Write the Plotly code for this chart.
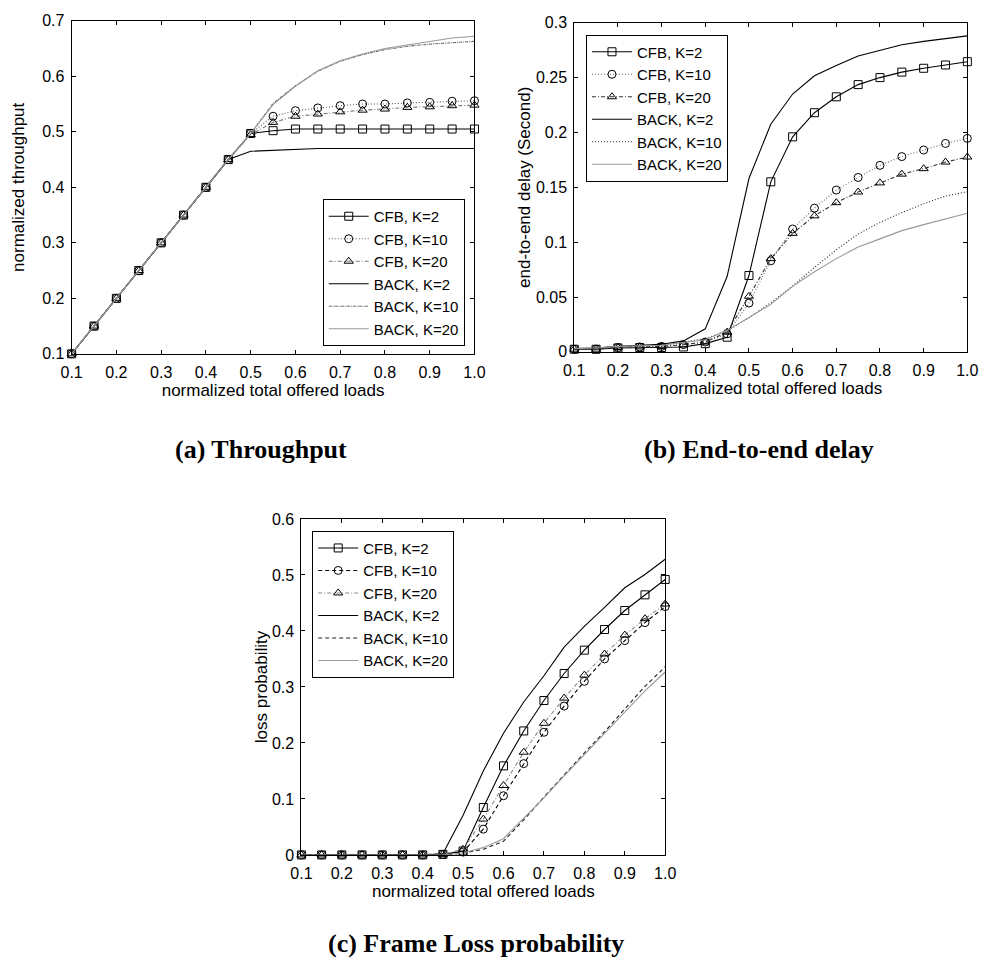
import plotly.graph_objects as go

# ---------------- data ----------------
x_load = [0.1, 0.15, 0.2, 0.25, 0.3, 0.35, 0.4, 0.45, 0.5, 0.55,
          0.6, 0.65, 0.7, 0.75, 0.8, 0.85, 0.9, 0.95, 1.0]
series_names = ["CFB, K=2", "CFB, K=10", "CFB, K=20",
                "BACK, K=2", "BACK, K=10", "BACK, K=20"]

thr_cfb_k2 = [0.1, 0.15, 0.2, 0.25, 0.3, 0.35, 0.4, 0.45, 0.497, 0.502,
              0.505, 0.505, 0.505, 0.505, 0.505, 0.505, 0.505, 0.505, 0.505]
thr_cfb_k10 = [0.1, 0.15, 0.2, 0.25, 0.3, 0.35, 0.4, 0.45, 0.497, 0.528,
               0.538, 0.543, 0.547, 0.55, 0.55, 0.552, 0.553, 0.555, 0.556]
thr_cfb_k20 = [0.1, 0.15, 0.2, 0.25, 0.3, 0.35, 0.4, 0.45, 0.495, 0.517,
               0.528, 0.532, 0.536, 0.539, 0.541, 0.544, 0.545, 0.547, 0.548]
thr_back_k2 = [0.1, 0.15, 0.2, 0.25, 0.3, 0.35, 0.4, 0.45, 0.465, 0.467,
               0.468, 0.47, 0.47, 0.47, 0.47, 0.47, 0.47, 0.47, 0.47]
thr_back_k10 = [0.1, 0.15, 0.2, 0.25, 0.3, 0.35, 0.4, 0.45, 0.497, 0.551,
                0.583, 0.609, 0.627, 0.639, 0.648, 0.654, 0.658, 0.661, 0.663]
thr_back_k20 = [0.1, 0.15, 0.2, 0.25, 0.3, 0.35, 0.4, 0.45, 0.497, 0.549,
                0.582, 0.61, 0.628, 0.64, 0.65, 0.656, 0.663, 0.669, 0.672]

dly_cfb_k2 = [0.0024, 0.0024, 0.0036, 0.004, 0.004, 0.0045, 0.0075, 0.0134, 0.0696, 0.155,
              0.196, 0.218, 0.2325, 0.2436, 0.25, 0.255, 0.2585, 0.2615, 0.2645]
dly_cfb_k10 = [0.0025, 0.0025, 0.004, 0.0045, 0.005, 0.0066, 0.009, 0.0164, 0.0445, 0.083,
               0.112, 0.131, 0.1475, 0.159, 0.17, 0.178, 0.184, 0.19, 0.1946]
dly_cfb_k20 = [0.0025, 0.0025, 0.004, 0.0045, 0.005, 0.0065, 0.009, 0.018, 0.0507, 0.085,
               0.108, 0.124, 0.136, 0.1457, 0.154, 0.162, 0.167, 0.173, 0.1776]
dly_back_k2 = [0.003, 0.0035, 0.005, 0.006, 0.007, 0.01, 0.021, 0.0687, 0.158, 0.2075,
               0.235, 0.2516, 0.261, 0.2696, 0.275, 0.28, 0.283, 0.2857, 0.288]
dly_back_k10 = [0.003, 0.0035, 0.005, 0.0055, 0.006, 0.009, 0.012, 0.0194, 0.031, 0.0448,
                0.06, 0.077, 0.093, 0.1075, 0.118, 0.127, 0.135, 0.142, 0.146]
dly_back_k20 = [0.003, 0.0035, 0.005, 0.0055, 0.006, 0.0085, 0.011, 0.0194, 0.031, 0.0433,
                0.0597, 0.073, 0.085, 0.0955, 0.103, 0.1105, 0.116, 0.121, 0.1263]

loss_cfb_k2 = [0, 0, 0, 0, 0, 0, 0, 0.001, 0.007, 0.0847,
               0.159, 0.2214, 0.2757, 0.324, 0.3657, 0.4025, 0.4364, 0.4644, 0.4919]
loss_cfb_k10 = [0, 0, 0, 0, 0, 0, 0, 0.001, 0.005, 0.046,
                0.1057, 0.163, 0.219, 0.2658, 0.31, 0.35, 0.3827, 0.4148, 0.4434]
loss_cfb_k20 = [0, 0, 0, 0, 0, 0, 0, 0.001, 0.01, 0.064,
                0.124, 0.1834, 0.235, 0.28, 0.321, 0.3587, 0.3926, 0.4218, 0.448]
loss_back_k2 = [0, 0, 0, 0, 0, 0, 0, 0.002, 0.071, 0.15,
                0.2173, 0.273, 0.32, 0.371, 0.408, 0.442, 0.477, 0.5007, 0.528]
loss_back_k10 = [0, 0, 0, 0, 0, 0, 0, 0, 0.003, 0.01,
                 0.0245, 0.0625, 0.1034, 0.143, 0.182, 0.22, 0.261, 0.301, 0.336]
loss_back_k20 = [0, 0, 0, 0, 0, 0, 0, 0, 0.004, 0.013,
                 0.029, 0.0654, 0.102, 0.141, 0.179, 0.217, 0.2565, 0.293, 0.3266]

x_tickvals = [0.1, 0.2, 0.3, 0.4, 0.5, 0.6, 0.7, 0.8, 0.9, 1.0]
x_ticktext = ["0.1", "0.2", "0.3", "0.4", "0.5", "0.6", "0.7", "0.8", "0.9", "1.0"]
thr_ticks = [0.1, 0.2, 0.3, 0.4, 0.5, 0.6, 0.7]
thr_ticktext = ["0.1", "0.2", "0.3", "0.4", "0.5", "0.6", "0.7"]
dly_ticks = [0, 0.05, 0.1, 0.15, 0.2, 0.25, 0.3]
dly_ticktext = ["0", "0.05", "0.1", "0.15", "0.2", "0.25", "0.3"]
loss_ticks = [0, 0.1, 0.2, 0.3, 0.4, 0.5, 0.6]
loss_ticktext = ["0", "0.1", "0.2", "0.3", "0.4", "0.5", "0.6"]

# ---------------- styles ----------------
SANS = "Liberation Sans, Arial, sans-serif"
SERIF = "Liberation Serif, Times New Roman, serif"
DOT = "1px,2px"
DASHDOT = "4px,2px,1px,2px"
DASH = "4px,3px"

symbols = ["square-open", "circle-open", "triangle-up-open", None, None, None]

styles_a = [("black", "solid"), ("#555555", DOT), ("#777777", DASHDOT),
            ("black", "solid"), ("#666666", "3px,1px,1px,1px"), ("#999999", "solid")]
styles_b = [("black", "solid"), ("#666666", DOT), ("#333333", DASHDOT),
            ("black", "solid"), ("#222222", DOT), ("#999999", "solid")]
styles_c = [("black", "solid"), ("black", DASH), ("#888888", DASHDOT),
            ("black", "solid"), ("#222222", DASH), ("#999999", "solid")]

fig = go.Figure()

def add_panel(ys, styles, xa, ya, legend):
    for i, (yv, (col, dash)) in enumerate(zip(ys, styles)):
        sym = symbols[i]
        fig.add_trace(go.Scatter(
            x=x_load, y=yv, name=series_names[i],
            mode="lines+markers" if sym else "lines",
            line=dict(color=col, width=1.1, dash=dash),
            marker=dict(symbol=sym, size=8, color="black",
                        line=dict(color="black", width=1)) if sym else None,
            xaxis=xa, yaxis=ya, legend=legend, cliponaxis=False,
        ))

add_panel([thr_cfb_k2, thr_cfb_k10, thr_cfb_k20, thr_back_k2, thr_back_k10, thr_back_k20],
          styles_a, "x", "y", "legend")
add_panel([dly_cfb_k2, dly_cfb_k10, dly_cfb_k20, dly_back_k2, dly_back_k10, dly_back_k20],
          styles_b, "x2", "y2", "legend2")
add_panel([loss_cfb_k2, loss_cfb_k10, loss_cfb_k20, loss_back_k2, loss_back_k10, loss_back_k20],
          styles_c, "x3", "y3", "legend3")

W, H = 993, 972

def px_x(p):
    return p / W

def px_y(p):
    return 1 - p / H

axis_common = dict(showline=True, linecolor="black", linewidth=1, mirror="ticks",
                   ticks="inside", ticklen=4, tickcolor="black", showgrid=False,
                   zeroline=False, tickfont=dict(family=SANS, size=16, color="black"))

def xaxis(domain, anchor):
    return dict(axis_common, domain=domain, anchor=anchor, range=[0.1, 1.0],
                tickvals=x_tickvals, ticktext=x_ticktext, ticklabelstandoff=4,
                title=dict(text="normalized total offered loads",
                           font=dict(family=SANS, size=17, color="black"), standoff=1))

def yaxis(domain, anchor, rng, tv, tt, title, standoff):
    return dict(axis_common, domain=domain, anchor=anchor, range=rng,
                tickvals=tv, ticktext=tt, ticklabelstandoff=3,
                title=dict(text=title, font=dict(family=SANS, size=17, color="black"),
                           standoff=standoff))

legend_common = dict(bgcolor="white", bordercolor="black", borderwidth=1,
                     font=dict(family=SANS, size=15, color="black"),
                     tracegroupgap=0, itemwidth=40)

cap_font = dict(family=SERIF, size=26, color="black")

fig.update_layout(
    width=W, height=H, margin=dict(l=0, r=0, t=0, b=0),
    paper_bgcolor="white", plot_bgcolor="white",
    showlegend=True,
    xaxis=xaxis([px_x(62), px_x(474)], "y"),
    yaxis=yaxis([px_y(352), px_y(13)], "x", [0.1, 0.7], thr_ticks, thr_ticktext,
                "normalized throughput", 13),
    xaxis2=xaxis([px_x(576), px_x(978)], "y2"),
    yaxis2=yaxis([px_y(350), px_y(15)], "x2", [0, 0.3], dly_ticks, dly_ticktext,
                 "end-to-end delay (Second)", 0),
    xaxis3=xaxis([px_x(297), px_x(669)], "y3"),
    yaxis3=yaxis([px_y(862), px_y(520)], "x3", [0, 0.6], loss_ticks, loss_ticktext,
                 "loss probability", 0),
    legend=dict(legend_common, x=px_x(464), y=px_y(344), xanchor="right", yanchor="bottom"),
    legend2=dict(legend_common, x=px_x(588), y=px_y(27), xanchor="left", yanchor="top"),
    legend3=dict(legend_common, x=px_x(308), y=px_y(532), xanchor="left", yanchor="top"),
    annotations=[
        dict(text="<b>(a) Throughput</b>", x=px_x(256), y=px_y(449), xref="paper", yref="paper",
             xanchor="center", yanchor="middle", showarrow=False, font=cap_font),
        dict(text="<b>(b) End-to-end delay</b>", x=px_x(765), y=px_y(449), xref="paper",
             yref="paper", xanchor="center", yanchor="middle", showarrow=False, font=cap_font),
        dict(text="<b>(c) Frame Loss probability</b>", x=px_x(476), y=px_y(952), xref="paper",
             yref="paper", xanchor="center", yanchor="middle", showarrow=False, font=cap_font),
    ],
)

fig.write_html("out.html")
